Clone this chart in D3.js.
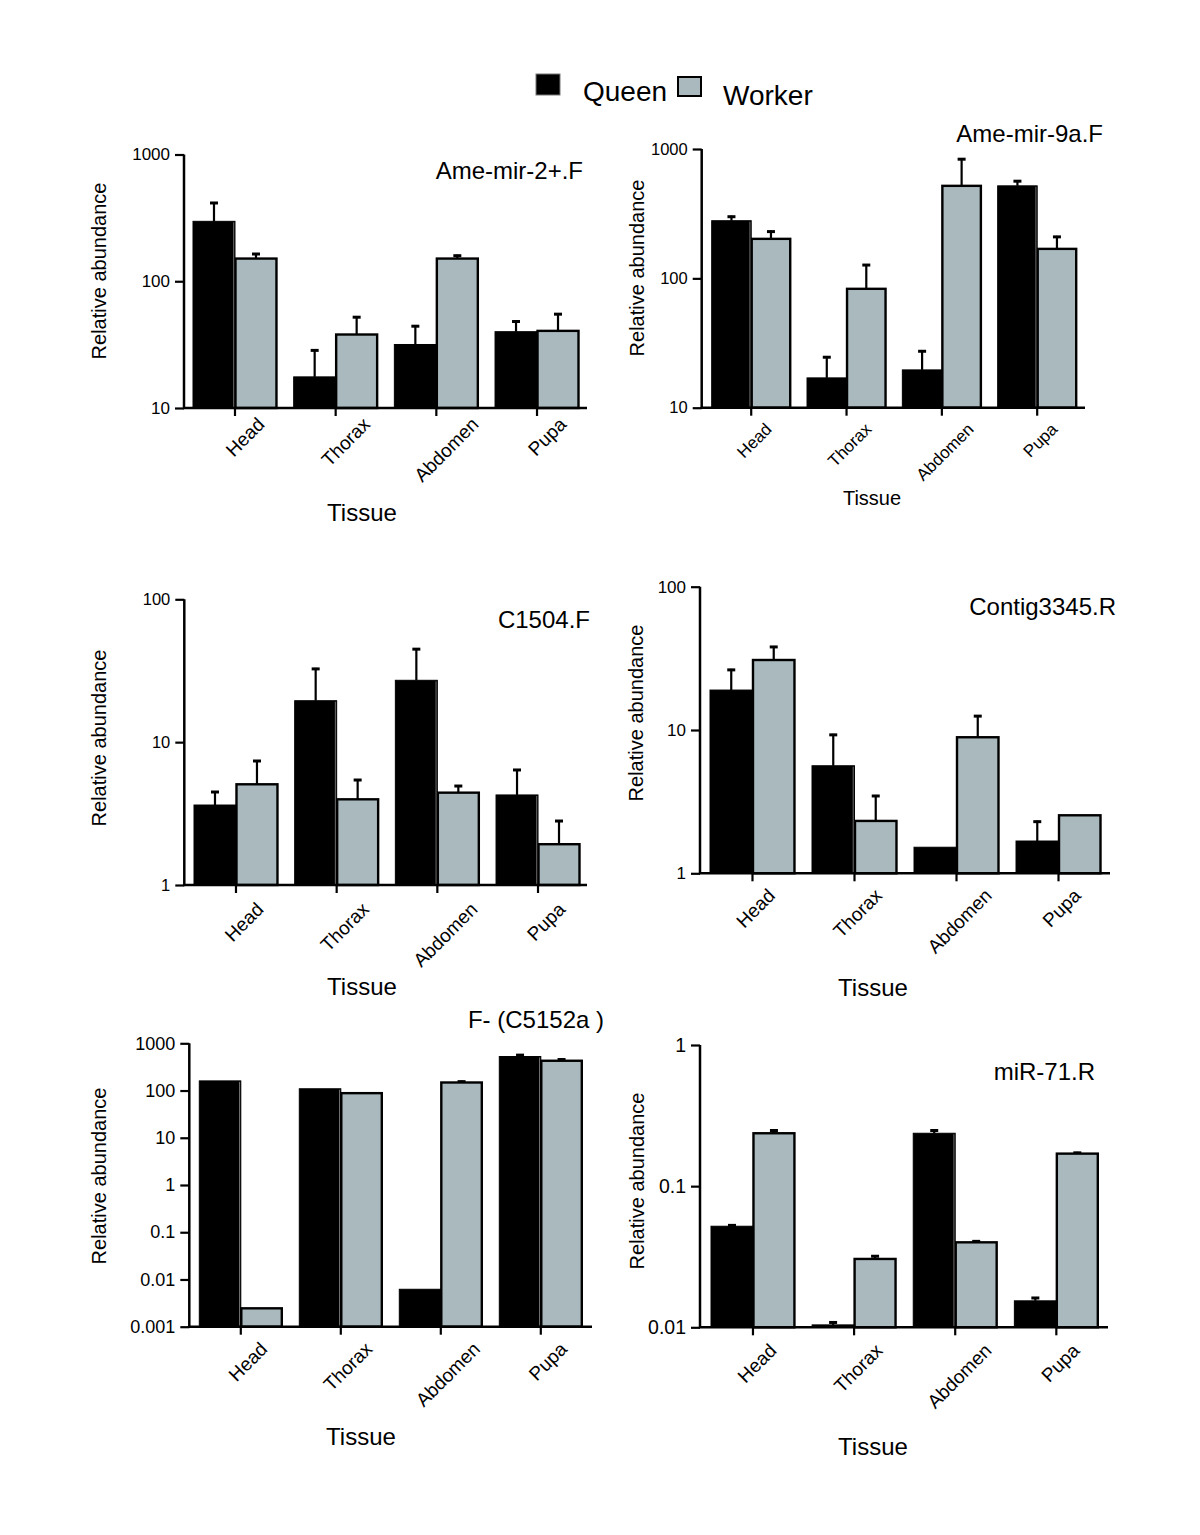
<!DOCTYPE html>
<html>
<head>
<meta charset="utf-8">
<script src="https://cdn.jsdelivr.net/npm/d3@7"></script>
<style>
  html, body { margin: 0; padding: 0; background: #fff; }
  svg text { font-family: "Liberation Sans", Arial, Helvetica, sans-serif; fill: #000; }
</style>
</head>
<body>
<svg id="chart" width="1200" height="1535"></svg>
<script>
// ---------------- DATA ----------------
const tissues = ["Head", "Thorax", "Abdomen", "Pupa"];
const seriesNames = ["Queen", "Worker"];

// Ame-mir-2+.F
const mir2Queen = [297, 17.6, 31.7, 40];
const mir2QueenErr = [125, 11.4, 13.3, 9];
const mir2Worker = [151, 38, 151, 40.6];
const mir2WorkerErr = [16, 15, 11, 15.4];
const mir2Ticks = [10, 100, 1000];

// Ame-mir-9a.F
const mir9aQueen = [279, 17, 19.6, 519];
const mir9aQueenErr = [26, 8, 8.2, 55];
const mir9aWorker = [202, 83, 519, 169];
const mir9aWorkerErr = [32, 46, 330, 44];
const mir9aTicks = [10, 100, 1000];

// C1504.F
const c1504Queen = [3.63, 19.5, 27.1, 4.27];
const c1504QueenErr = [0.92, 13.6, 18.4, 2.22];
const c1504Worker = [5.07, 3.98, 4.43, 1.93];
const c1504WorkerErr = [2.43, 1.54, 0.58, 0.92];
const c1504Ticks = [1, 10, 100];

// Contig3345.R
const contigQueen = [19, 5.63, 1.52, 1.68];
const contigQueenErr = [7.7, 3.77, 0, 0.65];
const contigWorker = [30.8, 2.32, 8.9, 2.54];
const contigWorkerErr = [7.8, 1.2, 3.8, 0];
const contigTicks = [1, 10, 100];

// F- (C5152a )
const c5152Queen = [160, 109, 0.0062, 525];
const c5152QueenErr = [0, 0, 0, 65];
const c5152Worker = [0.00245, 88, 148, 427];
const c5152WorkerErr = [0, 0, 14, 49];
const c5152Ticks = [0.001, 0.01, 0.1, 1, 10, 100, 1000];

// miR-71.R
const mir71Queen = [0.052, 0.0104, 0.237, 0.0154];
const mir71QueenErr = [0.0016, 0.0006, 0.015, 0.001];
const mir71Worker = [0.237, 0.0305, 0.04, 0.17];
const mir71WorkerErr = [0.015, 0.0019, 0.0013, 0.005];
const mir71Ticks = [0.01, 0.1, 1];

const titles = ["Ame-mir-2+.F", "Ame-mir-9a.F", "C1504.F", "Contig3345.R", "F- (C5152a )", "miR-71.R"];
const yAxisLabel = "Relative abundance";
const xAxisLabel = "Tissue";

// ---------------- LAYOUT (positions & styles) ----------------
const colors = { Queen: "#000000", Worker: "#a9b9be" };

const layout = [
  { ax: 184, axR: 587, yB: 408, yT: 154.5, bL: 193, bR: 579, pad: 0.166,
    tX: 583, tY: 179, ylX: 99, ylY: 271, tsX: 362, tsY: 521, tsF: 24,
    tickF: 17, labF: 19, labDx: 10, labGap: 8 },
  { ax: 701.7, axR: 1085, yB: 407.7, yT: 149, bL: 711.7, bR: 1076.7, pad: 0.171,
    tX: 1103, tY: 142, ylX: 637, ylY: 268, tsX: 872, tsY: 505, tsF: 20,
    tickF: 16.5, labF: 17, labDx: 3, labGap: 14 },
  { ax: 184.3, axR: 587, yB: 885, yT: 599.3, bL: 194, bR: 580, pad: 0.166,
    tX: 590, tY: 628, ylX: 99, ylY: 738, tsX: 362, tsY: 995, tsF: 24,
    tickF: 16.5, labF: 19, labDx: 8, labGap: 16 },
  { ax: 700, axR: 1110, yB: 873.3, yT: 586.7, bL: 710, bR: 1101, pad: 0.167,
    tX: 1116, tY: 615, ylX: 636, ylY: 713, tsX: 873, tsY: 996, tsF: 24,
    tickF: 17, labF: 19, labDx: 3, labGap: 14 },
  { ax: 189.3, axR: 592, yB: 1326.7, yT: 1043.3, bL: 199.3, bR: 582.3, pad: 0.17,
    tX: 604, tY: 1028, ylX: 99, ylY: 1176, tsX: 361, tsY: 1445, tsF: 24,
    tickF: 18, labF: 19, labDx: 7, labGap: 14 },
  { ax: 700, axR: 1108, yB: 1327.3, yT: 1045, bL: 711, bR: 1098.3, pad: 0.17,
    tX: 1095, tY: 1080, ylX: 637, ylY: 1181, tsX: 873, tsY: 1455, tsF: 24,
    tickF: 19.5, labF: 19, labDx: 4, labGap: 15 }
];

const panelData = [
  { q: mir2Queen, qe: mir2QueenErr, w: mir2Worker, we: mir2WorkerErr, ticks: mir2Ticks },
  { q: mir9aQueen, qe: mir9aQueenErr, w: mir9aWorker, we: mir9aWorkerErr, ticks: mir9aTicks },
  { q: c1504Queen, qe: c1504QueenErr, w: c1504Worker, we: c1504WorkerErr, ticks: c1504Ticks },
  { q: contigQueen, qe: contigQueenErr, w: contigWorker, we: contigWorkerErr, ticks: contigTicks },
  { q: c5152Queen, qe: c5152QueenErr, w: c5152Worker, we: c5152WorkerErr, ticks: c5152Ticks },
  { q: mir71Queen, qe: mir71QueenErr, w: mir71Worker, we: mir71WorkerErr, ticks: mir71Ticks }
];

// ---------------- DRAW ----------------
const svg = d3.select("#chart");
svg.append("rect").attr("width", 1200).attr("height", 1535).attr("fill", "#fff");

// Legend
const legend = svg.append("g");
legend.append("rect").attr("x", 536).attr("y", 74).attr("width", 24).attr("height", 21)
  .attr("fill", colors.Queen).attr("stroke", "#777").attr("stroke-width", 1);
legend.append("text").attr("x", 583).attr("y", 101).attr("font-size", 28).text(seriesNames[0]);
legend.append("rect").attr("x", 678).attr("y", 77).attr("width", 23).attr("height", 19)
  .attr("fill", colors.Worker).attr("stroke", "#000").attr("stroke-width", 2);
legend.append("text").attr("x", 723).attr("y", 105).attr("font-size", 28).text(seriesNames[1]);

panelData.forEach((pd, i) => {
  const L = layout[i];
  const g = svg.append("g");
  const dom = d3.extent(pd.ticks);
  const y = d3.scaleLog().domain(dom).range([L.yB, L.yT]);
  const x = d3.scaleBand().domain(tissues).range([L.bL, L.bR]).paddingInner(L.pad).paddingOuter(0);
  const xs = d3.scaleBand().domain(seriesNames).range([0, x.bandwidth()]);

  const rows = [];
  tissues.forEach((t, k) => {
    rows.push({ t, s: "Queen", v: pd.q[k], e: pd.qe[k] });
    rows.push({ t, s: "Worker", v: pd.w[k], e: pd.we[k] });
  });

  // error bars
  const eb = g.append("g");
  rows.filter(d => d.e > 0).forEach(d => {
    const cx = x(d.t) + xs(d.s) + xs.bandwidth() / 2;
    const yTop = y(d.v + d.e);
    eb.append("line").attr("x1", cx).attr("x2", cx).attr("y1", y(d.v)).attr("y2", yTop)
      .attr("stroke", "#000").attr("stroke-width", 2.2);
    eb.append("line").attr("x1", cx - 4).attr("x2", cx + 4).attr("y1", yTop + 1).attr("y2", yTop + 1)
      .attr("stroke", "#000").attr("stroke-width", 3);
  });

  // bars
  g.append("g").selectAll("rect").data(rows).join("rect")
    .attr("x", d => x(d.t) + xs(d.s) + (d.s === "Worker" ? 0.5 : 0))
    .attr("y", d => y(d.v))
    .attr("width", d => xs.bandwidth() - (d.s === "Worker" ? 1 : 0))
    .attr("height", d => L.yB - y(d.v))
    .attr("fill", d => colors[d.s])
    .attr("stroke", "#000")
    .attr("stroke-width", d => d.s === "Worker" ? 2.4 : 1);

  // thin light separator on queen bar's right edge
  tissues.forEach((t, k) => {
    const xx = x(t) + xs("Worker");
    g.append("line").attr("x1", xx - 1.3).attr("x2", xx - 1.3).attr("y1", y(pd.q[k]) + 1).attr("y2", L.yB - 1)
      .attr("stroke", "#888").attr("stroke-width", 0.8).attr("opacity", y(pd.q[k]) < y(pd.w[k]) ? 1 : 0);
  });

  // y axis
  const yAxis = d3.axisLeft(y).tickValues(pd.ticks).tickFormat(d => String(d))
    .tickSize(9).tickSizeOuter(0).tickPadding(5);
  const ya = g.append("g").attr("transform", `translate(${L.ax},0)`).call(yAxis);
  ya.select(".domain").attr("stroke-width", 2.5).attr("d", `M0,${L.yB}V${L.yT}`);
  ya.selectAll(".tick line").attr("stroke-width", 2.2);
  ya.selectAll(".tick text").attr("font-size", L.tickF)
    .attr("font-family", "'Liberation Sans', Arial, Helvetica, sans-serif").attr("fill", "#000");

  // x axis line + ticks
  g.append("line").attr("x1", L.ax - 1).attr("x2", L.axR).attr("y1", L.yB).attr("y2", L.yB)
    .attr("stroke", "#000").attr("stroke-width", 2.6);
  const xAxis = d3.axisBottom(x).tickSize(8).tickSizeOuter(0).tickFormat("");
  const xa = g.append("g").attr("transform", `translate(0,${L.yB})`).call(xAxis);
  xa.select(".domain").remove();
  xa.selectAll(".tick line").attr("stroke-width", 2.2);

  // rotated category labels
  tissues.forEach(t => {
    const tx = x(t) + x.bandwidth() / 2;
    const lab = g.append("text").attr("font-size", L.labF).attr("text-anchor", "middle")
      .attr("dy", "0.35em").text(t);
    const len = lab.node().getComputedTextLength();
    const h = L.labF * 0.72;
    const cy = L.yB + L.labGap + (len + h) * 0.354;
    lab.attr("transform", `translate(${tx + L.labDx},${cy}) rotate(-45)`);
  });

  // title
  g.append("text").attr("x", L.tX).attr("y", L.tY).attr("text-anchor", "end")
    .attr("font-size", 24).text(titles[i]);

  // y label
  g.append("text").attr("transform", `translate(${L.ylX},${L.ylY}) rotate(-90)`)
    .attr("text-anchor", "middle").attr("dy", "0.35em").attr("font-size", 20).text(yAxisLabel);

  // x label
  g.append("text").attr("x", L.tsX).attr("y", L.tsY).attr("text-anchor", "middle")
    .attr("font-size", L.tsF).text(xAxisLabel);
});
</script>
</body>
</html>
